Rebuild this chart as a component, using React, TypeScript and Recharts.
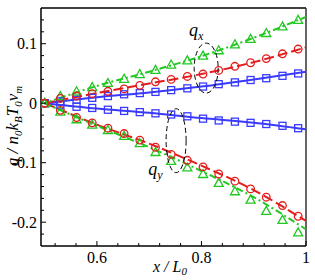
import React from 'react';
import {
  ComposedChart, Line, Scatter, XAxis, YAxis, ReferenceLine, ReferenceDot,
} from 'recharts';

// marker positions (x / L0)
const X_PTS = [0.5, 0.53, 0.561, 0.591, 0.621, 0.652, 0.682, 0.712, 0.742, 0.773, 0.803, 0.833, 0.864, 0.894, 0.924, 0.955, 0.985];
const BLUE_QX_PTS = [0, 0.003, 0.006, 0.009, 0.012, 0.015, 0.017, 0.019, 0.022, 0.025, 0.028, 0.032, 0.035, 0.039, 0.042, 0.046, 0.05];
const RED_QX_PTS = [0, 0.008, 0.012, 0.016, 0.02, 0.024, 0.03, 0.036, 0.04, 0.045, 0.049, 0.055, 0.062, 0.068, 0.075, 0.083, 0.091];
const GREEN_QX_PTS = [0, 0.012, 0.02, 0.027, 0.034, 0.041, 0.049, 0.056, 0.065, 0.072, 0.08, 0.089, 0.099, 0.108, 0.118, 0.129, 0.14];
const BLUE_QY_PTS = [0, -0.003, -0.006, -0.008, -0.011, -0.013, -0.015, -0.017, -0.019, -0.022, -0.026, -0.029, -0.031, -0.033, -0.035, -0.038, -0.042];
const RED_QY_PTS = [0, -0.012, -0.024, -0.033, -0.042, -0.051, -0.062, -0.074, -0.086, -0.096, -0.107, -0.119, -0.131, -0.144, -0.158, -0.172, -0.19];
const GREEN_QY_PTS = [0, -0.014, -0.027, -0.036, -0.045, -0.055, -0.067, -0.082, -0.097, -0.108, -0.119, -0.134, -0.148, -0.162, -0.181, -0.196, -0.217];

// curve nodes
const X_LINE = [0.5, 0.6, 0.7, 0.8, 0.9, 1.0];
const BLUE_QX_LINE = [0, 0.01, 0.018, 0.028, 0.04, 0.053];
const RED_QX_LINE = [0, 0.017, 0.033, 0.049, 0.069, 0.094];
const GREEN_QX_LINE = [0, 0.029, 0.053, 0.079, 0.11, 0.145];
const BLUE_QY_LINE = [0, -0.009, -0.016, -0.025, -0.033, -0.044];
const RED_QY_LINE = [0, -0.036, -0.068, -0.105, -0.146, -0.198];
const GREEN_QY_LINE = [0, -0.038, -0.074, -0.114, -0.158, -0.212];

const X_MAJOR = [0.6, 0.8, 1.0];
const X_TICKS = [0.52, 0.56, 0.6, 0.64, 0.68, 0.72, 0.76, 0.8, 0.84, 0.88, 0.92, 0.96, 1.0];
const Y_MAJOR = [-0.2, -0.1, 0, 0.1];
const Y_TICKS = [-0.22, -0.2, -0.18, -0.16, -0.14, -0.12, -0.1, -0.08, -0.06, -0.04, -0.02, 0, 0.02, 0.04, 0.06, 0.08, 0.1, 0.12, 0.14];

const BLUE = '#3a3aff';
const RED = '#e31c1c';
const GREEN = '#22c822';
const SERIF = '"Liberation Serif", "Times New Roman", serif';

const zip = (xs: number[], ys: number[]) => xs.map((x, i) => ({ x, y: ys[i] }));
const isMajor = (list: number[], v: number) => list.some(m => Math.abs(m - v) < 1e-9);
const fmt = (v: number) => (Math.abs(v) < 1e-9 ? '0' : String(+v.toFixed(2)));

const YTick = (props: any) => {
  const { x, y, payload } = props;
  const major = isMajor(Y_MAJOR, payload.value);
  return (
    <g>
      <line x1={x} x2={x + (major ? 5 : 3)} y1={y} y2={y} stroke="#000" strokeWidth={1} />
      {major && (
        <text x={x - 4} y={y} dy={5.5} textAnchor="end" fontFamily={SERIF} fontSize={16} fill="#000">
          {fmt(payload.value)}
        </text>
      )}
    </g>
  );
};

const XTick = (props: any) => {
  const { x, y, payload } = props;
  const major = isMajor(X_MAJOR, payload.value);
  return (
    <g>
      <line x1={x} x2={x} y1={y} y2={y - (major ? 5 : 3)} stroke="#000" strokeWidth={1} />
      {major && (
        <text x={x} y={y} dy={17} textAnchor="middle" fontFamily={SERIF} fontSize={16} fill="#000">
          {fmt(payload.value)}
        </text>
      )}
    </g>
  );
};

const Square = (p: any) => (
  <rect x={p.cx - 3.5} y={p.cy - 3.5} width={7} height={7} fill="none" stroke={BLUE} strokeWidth={1.3} />
);
const Circ = (p: any) => <circle cx={p.cx} cy={p.cy} r={3.8} fill="none" stroke={RED} strokeWidth={1.3} />;
const Tri = (p: any) => (
  <polygon
    points={`${p.cx},${p.cy - 4.5} ${p.cx - 4.5},${p.cy + 3.5} ${p.cx + 4.5},${p.cy + 3.5}`}
    fill="none" stroke={GREEN} strokeWidth={1.3}
  />
);

const Ellipse = (rx: number, ry: number) => (p: any) => (
  <ellipse cx={p.cx} cy={p.cy} rx={rx} ry={ry} fill="none" stroke="#000" strokeWidth={1} strokeDasharray="5 3" />
);

const QLabel = (sub: string) => (p: any) => (
  <text x={p.cx} y={p.cy} textAnchor="middle" fontFamily={SERIF} fontStyle="italic" fontSize={18} fill="#000">
    q<tspan fontSize={12} dy={4}>{sub}</tspan>
  </text>
);

export default function App() {
  const lines = [
    { d: zip(X_LINE, BLUE_QX_LINE), c: BLUE, dash: undefined },
    { d: zip(X_LINE, BLUE_QY_LINE), c: BLUE, dash: undefined },
    { d: zip(X_LINE, RED_QX_LINE), c: RED, dash: '10 4' },
    { d: zip(X_LINE, RED_QY_LINE), c: RED, dash: '10 4' },
    { d: zip(X_LINE, GREEN_QX_LINE), c: GREEN, dash: '7 3 2 3' },
    { d: zip(X_LINE, GREEN_QY_LINE), c: GREEN, dash: '7 3 2 3' },
  ];
  return (
    <div style={{ position: 'absolute', left: 0, top: 0, background: '#fff' }}>
      <ComposedChart width={315} height={280} margin={{ top: 8, right: 9, bottom: 0, left: 0 }}>
        <XAxis
          type="number" dataKey="x" domain={[0.493, 1.0]} ticks={X_TICKS} interval={0}
          allowDataOverflow height={34} tickSize={0} tickMargin={0} tickLine={false}
          tick={<XTick />} axisLine={{ stroke: '#000', strokeWidth: 1.5 }}
        />
        <YAxis
          type="number" dataKey="y" domain={[-0.24, 0.16]} ticks={Y_TICKS} interval={0}
          allowDataOverflow width={41} tickSize={0} tickMargin={0} tickLine={false}
          tick={<YTick />} axisLine={{ stroke: '#000', strokeWidth: 1.5 }}
        />
        <ReferenceLine y={0.16} stroke="#000" strokeWidth={1.5} />
        <ReferenceLine x={1.0} stroke="#333" strokeWidth={1.5} />
        {lines.map((l, i) => (
          <Line
            key={i} data={l.d} dataKey="y" type="monotone" stroke={l.c} strokeWidth={2}
            strokeDasharray={l.dash} dot={false} activeDot={false} isAnimationActive={false}
          />
        ))}
        <Scatter data={zip(X_PTS, BLUE_QX_PTS)} dataKey="y" shape={Square} isAnimationActive={false} />
        <Scatter data={zip(X_PTS, BLUE_QY_PTS)} dataKey="y" shape={Square} isAnimationActive={false} />
        <Scatter data={zip(X_PTS, GREEN_QX_PTS)} dataKey="y" shape={Tri} isAnimationActive={false} />
        <Scatter data={zip(X_PTS, GREEN_QY_PTS)} dataKey="y" shape={Tri} isAnimationActive={false} />
        <Scatter data={zip(X_PTS, RED_QX_PTS)} dataKey="y" shape={Circ} isAnimationActive={false} />
        <Scatter data={zip(X_PTS, RED_QY_PTS)} dataKey="y" shape={Circ} isAnimationActive={false} />
        <ReferenceDot x={0.809} y={0.059} shape={Ellipse(12, 25)} />
        <ReferenceDot x={0.7515} y={-0.063} shape={Ellipse(10, 32)} />
        <ReferenceDot x={0.79} y={0.113} shape={QLabel('x')} />
        <ReferenceDot x={0.712} y={-0.12} shape={QLabel('y')} />
      </ComposedChart>
      <svg width={315} height={280} style={{ position: 'absolute', left: 0, top: 0, pointerEvents: 'none' }}>
        <text
          transform="translate(18,126) rotate(-90)" textAnchor="middle"
          fontFamily={SERIF} fontStyle="italic" fontSize={17} fill="#000"
        >
          q / n<tspan fontSize={11} dy={4}>0</tspan>
          <tspan dy={-4}>k</tspan><tspan fontSize={11} dy={4}>B</tspan>
          <tspan dy={-4}>T</tspan><tspan fontSize={11} dy={4}>0</tspan>
          <tspan dy={-4}>v</tspan><tspan fontSize={11} dy={4}>m</tspan>
        </text>
        <text x={170} y={272} textAnchor="middle" fontFamily={SERIF} fontStyle="italic" fontSize={16} fill="#000">
          x / L<tspan fontSize={11} dy={3}>0</tspan>
        </text>
      </svg>
    </div>
  );
}
